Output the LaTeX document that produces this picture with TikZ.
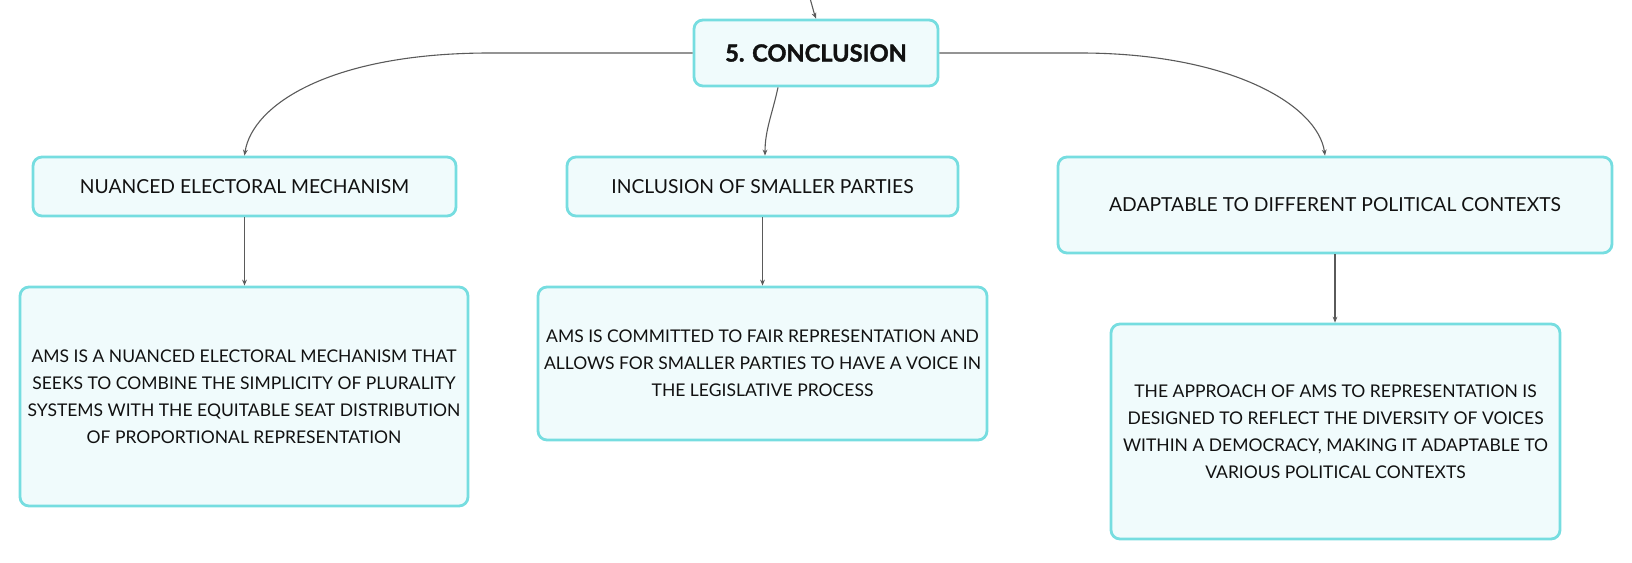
\documentclass[tikz,border=0pt]{standalone}
\usepackage{fontspec}
\setmainfont{Lato}
\newfontfamily\heavyfont{Lato}[BoldFeatures={FakeBold=1.6}]
\usetikzlibrary{arrows.meta}
\definecolor{boxc}{HTML}{76DDE0}
\definecolor{fillc}{HTML}{F0FBFC}
\definecolor{linec}{HTML}{5A5A5A}
\definecolor{txtc}{HTML}{111111}
\begin{document}
\begin{tikzpicture}[x=0.5pt,y=-0.5pt,
  box/.style={draw=boxc, fill=fillc, line width=1.4pt, rounded corners=4.5pt,
    align=center, inner sep=0pt, text=txtc},
  headbox/.style={box, font=\heavyfont\bfseries\fontsize{11.8}{13}\selectfont},
  midbox/.style={box, font=\fontsize{9.65}{12}\selectfont},
  leafbox/.style={box, font=\fontsize{8.75}{13.5}\selectfont},
  conn/.style={draw=linec, line width=0.55pt, -{Stealth[length=3pt,width=2.4pt]}}]
\useasboundingbox (0,0) rectangle (1632,562);

\node[headbox, minimum width=122pt, minimum height=33pt] (concl) at (816,53) {5. CONCLUSION};

\node[midbox, minimum width=211.5pt, minimum height=29.5pt] (c1) at (244.5,186.5) {NUANCED ELECTORAL MECHANISM};
\node[midbox, minimum width=195.5pt, minimum height=29.5pt] (c2) at (762.5,186.5) {INCLUSION OF SMALLER PARTIES};
\node[midbox, minimum width=277pt, minimum height=48pt] (c3) at (1335,205) {ADAPTABLE TO DIFFERENT POLITICAL CONTEXTS};

\node[leafbox, minimum width=224pt, minimum height=109.5pt] (d1) at (244,396.5)
  {AMS IS A NUANCED ELECTORAL MECHANISM THAT\\SEEKS TO COMBINE THE SIMPLICITY OF PLURALITY\\SYSTEMS WITH THE EQUITABLE SEAT DISTRIBUTION\\OF PROPORTIONAL REPRESENTATION};
\node[leafbox, minimum width=224.5pt, minimum height=76.5pt] (d2) at (762.5,363.5)
  {AMS IS COMMITTED TO FAIR REPRESENTATION AND\\ALLOWS FOR SMALLER PARTIES TO HAVE A VOICE IN\\THE LEGISLATIVE PROCESS};
\node[leafbox, minimum width=224.5pt, minimum height=107.5pt] (d3) at (1335.5,431.5)
  {THE APPROACH OF AMS TO REPRESENTATION IS\\DESIGNED TO REFLECT THE DIVERSITY OF VOICES\\WITHIN A DEMOCRACY, MAKING IT ADAPTABLE TO\\VARIOUS POLITICAL CONTEXTS};

\coordinate (top) at (810.5,0);
\draw[conn] (top) .. controls (812,8) .. (concl.north);

\draw[conn] (concl.west) -- (490,53) .. controls (330,53) and (252,105) .. (c1.north);
\draw[conn] ([xshift=-19pt]concl.south) .. controls (772,115) and (765,130) .. ([xshift=1.25pt]c2.north);
\draw[conn] (concl.east) -- (1080,53) .. controls (1230,53) and (1318,105) .. ([xshift=-5pt]c3.north);

\draw[conn] (c1.south) -- (c1.south |- d1.north);
\draw[conn] (c2.south) -- (c2.south |- d2.north);
\draw[conn] (c3.south) -- (c3.south |- d3.north);
\end{tikzpicture}
\end{document}
